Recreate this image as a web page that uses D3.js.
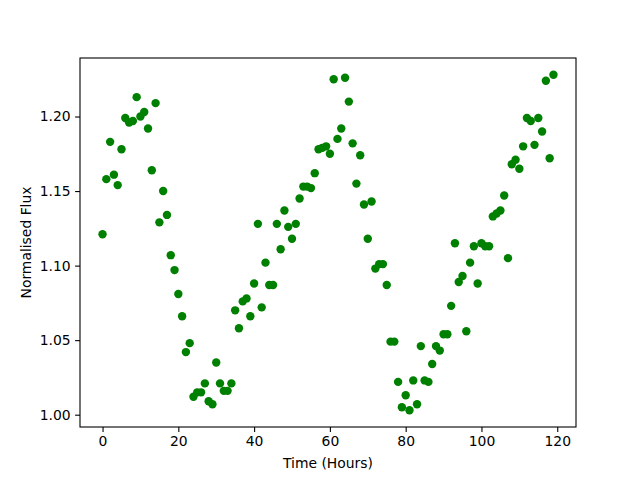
<!DOCTYPE html>
<html>
<head>
<meta charset="utf-8">
<script src="https://cdn.jsdelivr.net/npm/d3@7"></script>
<style>
    body { margin: 0; background: #fff; }
    svg text { font-family: "DejaVu Sans", sans-serif; }
</style>
</head>
<body>
<svg id="chart" width="640" height="480"></svg>
<script>
// hours since start of observation
var hours = d3.range(0, 120);

// normalised flux, one reading per hour
var flux = [
    1.121, 1.158, 1.183, 1.161, 1.154, 1.178, 1.199, 1.196, 1.197, 1.213,
    1.200, 1.203, 1.192, 1.164, 1.209, 1.129, 1.150, 1.134, 1.107, 1.097,
    1.081, 1.066, 1.042, 1.048, 1.012, 1.015, 1.015, 1.021, 1.009, 1.007,
    1.035, 1.021, 1.016, 1.016, 1.021, 1.070, 1.058, 1.076, 1.078, 1.066,
    1.088, 1.128, 1.072, 1.102, 1.087, 1.087, 1.128, 1.111, 1.137, 1.126,
    1.118, 1.128, 1.145, 1.153, 1.153, 1.152, 1.162, 1.178, 1.179, 1.180,
    1.175, 1.225, 1.185, 1.192, 1.226, 1.210, 1.182, 1.155, 1.174, 1.141,
    1.118, 1.143, 1.098, 1.101, 1.101, 1.087, 1.049, 1.049, 1.022, 1.005,
    1.013, 1.003, 1.023, 1.007, 1.046, 1.023, 1.022, 1.034, 1.046, 1.043,
    1.054, 1.054, 1.073, 1.115, 1.089, 1.093, 1.056, 1.102, 1.113, 1.088,
    1.115, 1.113, 1.113, 1.133, 1.135, 1.137, 1.147, 1.105, 1.168, 1.171,
    1.165, 1.180, 1.199, 1.197, 1.181, 1.199, 1.190, 1.224, 1.172, 1.228
];

var xTicks = [0, 20, 40, 60, 80, 100, 120];
var yTicks = [1.00, 1.05, 1.10, 1.15, 1.20];

var svg = d3.select('#chart');
var margin = {left: 80, right: 64, top: 58, bottom: 53};
var width = 640 - margin.left - margin.right;
var height = 480 - margin.top - margin.bottom;

// matplotlib style 5% padding around the data
function padded(ext) {
    var pad = (ext[1] - ext[0]) * 0.05;
    return [ext[0] - pad, ext[1] + pad];
}

var x = d3.scaleLinear()
    .domain(padded(d3.extent(hours)))
    .range([0, width]);

var y = d3.scaleLinear()
    .domain(padded(d3.extent(flux)))
    .range([height, 0]);

var g = svg.append('g')
    .attr('transform', 'translate(' + margin.left + ',' + margin.top + ')');

var points = hours.map(function(h, i) { return {h: h, f: flux[i]}; });

g.append('g')
    .classed('points', true)
  .selectAll('circle')
    .data(points)
  .enter().append('circle')
    .attr('cx', function(d) { return x(d.h); })
    .attr('cy', function(d) { return y(d.f); })
    .attr('r', 4.2)
    .attr('fill', '#008000');

var xAxis = g.append('g')
    .attr('transform', 'translate(0,' + height + ')')
    .call(d3.axisBottom(x).tickValues(xTicks).tickSize(4.9).tickPadding(4.5).tickFormat(d3.format('d')));

var yAxis = g.append('g')
    .call(d3.axisLeft(y).tickValues(yTicks).tickSize(4.9).tickPadding(4.5).tickFormat(d3.format('.2f')));

[xAxis, yAxis].forEach(function(ax) {
    ax.select('.domain').remove();
    ax.selectAll('.tick line').attr('stroke', '#000').attr('stroke-width', 1.1);
    ax.selectAll('.tick text').attr('fill', '#000').style('font-size', '13.9px');
});

// spines
g.append('rect')
    .attr('x', 0)
    .attr('y', 0)
    .attr('width', width)
    .attr('height', height)
    .attr('fill', 'none')
    .attr('stroke', '#000')
    .attr('stroke-width', 1.1);

svg.append('text')
    .attr('x', margin.left + width / 2)
    .attr('y', 468)
    .attr('text-anchor', 'middle')
    .style('font-size', '13.9px')
    .text('Time (Hours)');

svg.append('text')
    .attr('transform', 'translate(31,' + (margin.top + height / 2) + ') rotate(-90)')
    .attr('text-anchor', 'middle')
    .style('font-size', '13.9px')
    .text('Normalised Flux');
</script>
</body>
</html>
